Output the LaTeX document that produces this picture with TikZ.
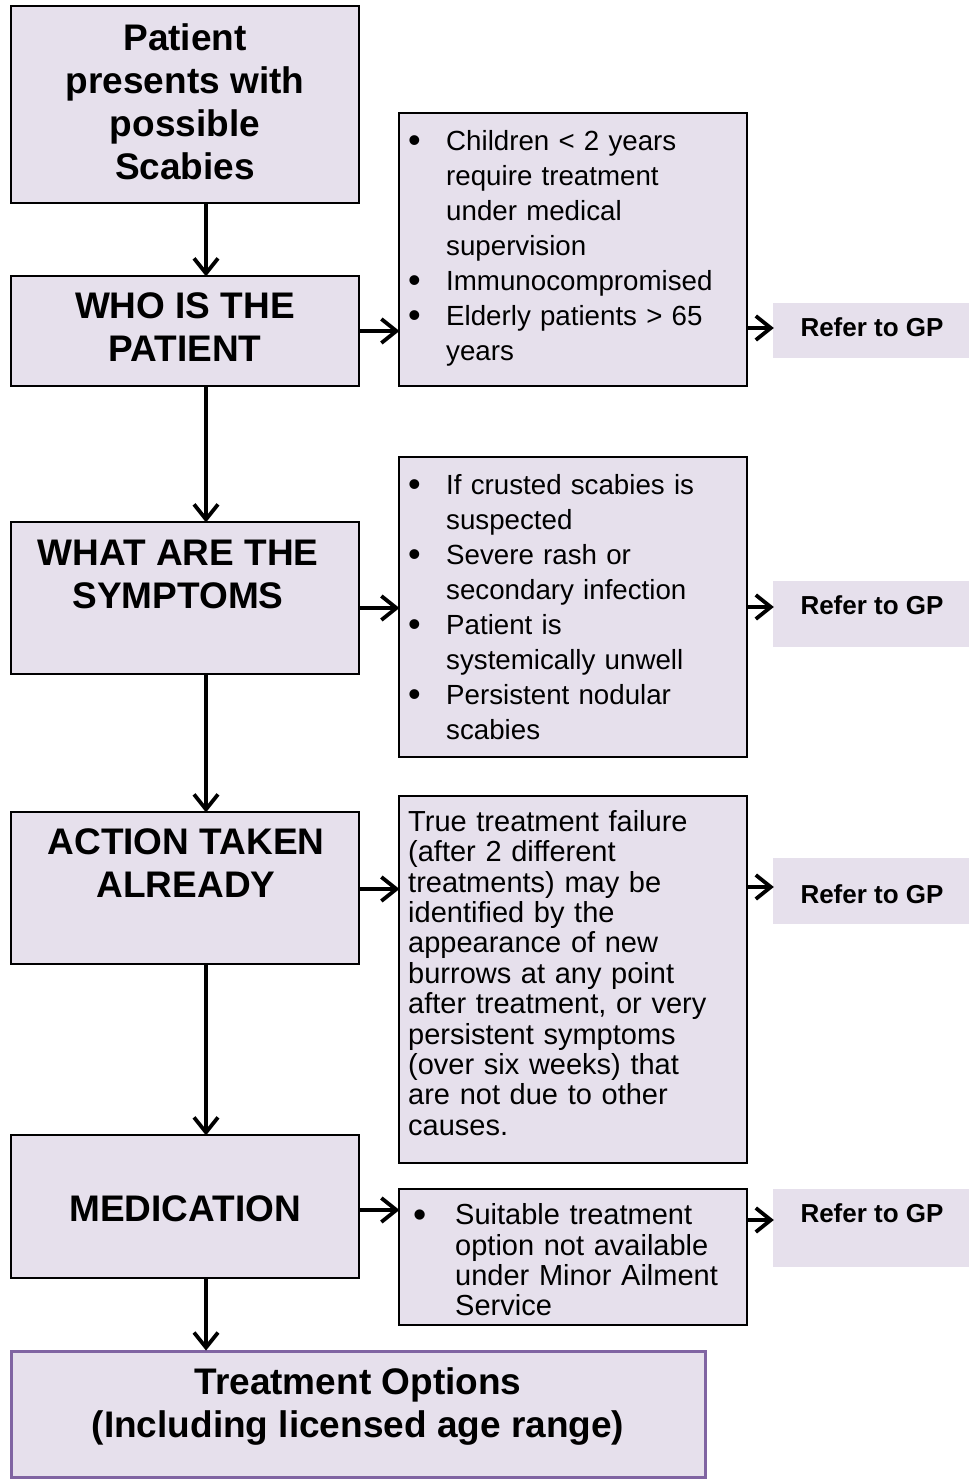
\documentclass[tikz,border=0pt]{standalone}
\usepackage{fontspec}
\usepackage{graphicx}
\setmainfont{Liberation Sans}
\usetikzlibrary{decorations.markings}
\definecolor{lav}{HTML}{E6E0EC}
\definecolor{purp}{HTML}{8064A2}
\newcommand\bitem[2]{\par\noindent\hangindent=#1\hangafter=1\makebox[#1][l]{\raisebox{-0.1em}{\scalebox{1.3}{\textbullet}}}\ignorespaces#2\par}
\tikzset{
  box/.style={draw=black, line width=1.3pt, fill=lav, inner sep=0pt},
  gpbox/.style={fill=lav, inner sep=0pt},
  head/.style={font=\fontsize{37}{43}\selectfont\bfseries, align=center, inner sep=0pt},
  lst/.style={font=\fontsize{27.7}{35}\selectfont, text width=335pt, inner sep=0pt, anchor=north west},
  plain/.style={font=\fontsize{29}{30.4}\selectfont, text width=335pt, inner sep=0pt, anchor=north west},
  gp/.style={font=\fontsize{26}{31}\selectfont\bfseries, inner sep=0pt},
  arr/.style={line width=3.8pt, shorten >=3pt, postaction={decorate}, decoration={markings,
    mark=at position 1 with {\draw[line width=3.8pt, line cap=butt, line join=miter, shorten >=0pt] (-17pt,-12pt) -- (-2pt,0pt) -- (-17pt,12pt);}}}
}
\begin{document}
\begin{tikzpicture}[x=1pt,y=-1pt]
\useasboundingbox (0,0) rectangle (976,1479);
% left column boxes
\node[box, minimum width=348pt, minimum height=197pt] (b1) at (185,104.5) {};
\node[box, minimum width=348pt, minimum height=110pt] (b2) at (185,331) {};
\node[box, minimum width=348pt, minimum height=152pt] (b3) at (185,598) {};
\node[box, minimum width=348pt, minimum height=152pt] (b4) at (185,888) {};
\node[box, minimum width=348pt, minimum height=143pt] (b5) at (185,1206.5) {};
\node[box, draw=purp, line width=3pt, minimum width=694pt, minimum height=126pt] (b6) at (358,1414) {};
\node[head] (t1) at (185,101.5) {Patient\\presents with\\possible\\Scabies};
\node[head] (t2) at (185,327) {WHO IS THE\\PATIENT};
\node[head] (t3) at (178,574) {WHAT ARE THE\\SYMPTOMS};
\node[head] (t4) at (186,863.5) {ACTION TAKEN\\ALREADY};
\node[head] (t5) at (185,1209) {MEDICATION};
\node[head] (t6) at (358,1406) {Treatment Options\\(Including licensed age range)};
% right column boxes
\node[box, minimum width=348pt, minimum height=273pt] (r1) at (573,249.5) {};
\node[box, minimum width=348pt, minimum height=300pt] (r2) at (573,607) {};
\node[box, minimum width=348pt, minimum height=367pt] (r3) at (573,979.5) {};
\node[box, minimum width=348pt, minimum height=136pt] (r4) at (573,1257) {};
\node[lst] (l1) at (408,115) {%
\bitem{38pt}{Children < 2 years\newline require treatment\newline under medical\newline supervision}%
\bitem{38pt}{Immunocompromised}%
\bitem{38pt}{Elderly patients > 65\newline years}};
\node[lst] (l2) at (408,459) {%
\bitem{38pt}{If crusted scabies is\newline suspected}%
\bitem{38pt}{Severe rash or\newline secondary infection}%
\bitem{38pt}{Patient is\newline systemically unwell}%
\bitem{38pt}{Persistent nodular\newline scabies}};
\node[plain] (l3) at (408,810) {True treatment failure\newline (after 2 different\newline treatments) may be\newline identified by the\newline appearance of new\newline burrows at any point\newline after treatment, or very\newline persistent symptoms\newline (over six weeks) that\newline are not due to other\newline causes.};
\node[plain] (l4) at (413,1194) {\bitem{42pt}{Suitable treatment\newline option not available\newline under Minor Ailment\newline Service}};
% refer boxes
\node[gpbox, minimum width=196pt, minimum height=55pt] (g1) at (871,330.5) {};
\node[gpbox, minimum width=196pt, minimum height=66pt] (g2) at (871,614) {};
\node[gpbox, minimum width=196pt, minimum height=66pt] (g3) at (871,891) {};
\node[gpbox, minimum width=196pt, minimum height=78pt] (g4) at (871,1228) {};
\node[gp] (p1) at (872,327) {Refer to GP};
\node[gp] (p2) at (872,605) {Refer to GP};
\node[gp] (p3) at (872,894) {Refer to GP};
\node[gp] (p4) at (872,1213) {Refer to GP};
% arrows
\coordinate (vx) at (206,0);
\draw[arr] (b1.south -| vx) -- (b2.north -| vx);
\draw[arr] (b2.south -| vx) -- (b3.north -| vx);
\draw[arr] (b3.south -| vx) -- (b4.north -| vx);
\draw[arr] (b4.south -| vx) -- (b5.north -| vx);
\draw[arr] (b5.south -| vx) -- (b6.north -| vx);
\coordinate (h1) at (0,331);
\coordinate (h2) at (0,608);
\coordinate (h3) at (0,889);
\coordinate (h4) at (0,1210);
\draw[arr] (b2.east |- h1) -- (r1.west |- h1);
\draw[arr] (b3.east |- h2) -- (r2.west |- h2);
\draw[arr] (b4.east |- h3) -- (r3.west |- h3);
\draw[arr] (b5.east |- h4) -- (r4.west |- h4);
\coordinate (k1) at (0,328);
\coordinate (k2) at (0,607);
\coordinate (k3) at (0,887);
\coordinate (k4) at (0,1220);
\draw[arr] (r1.east |- k1) -- (g1.west |- k1);
\draw[arr] (r2.east |- k2) -- (g2.west |- k2);
\draw[arr] (r3.east |- k3) -- (g3.west |- k3);
\draw[arr] (r4.east |- k4) -- (g4.west |- k4);
\end{tikzpicture}
\end{document}
